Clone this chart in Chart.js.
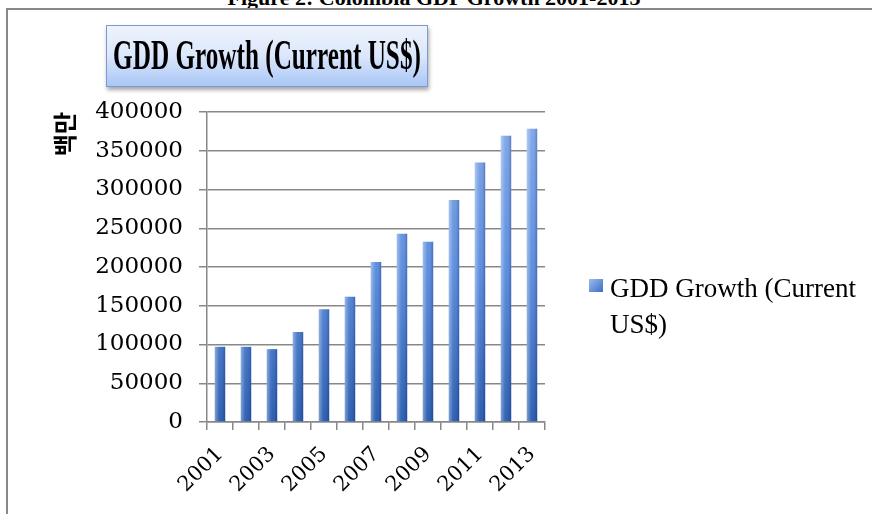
<!DOCTYPE html>
<html>
<head>
<meta charset="utf-8">
<script src="https://cdn.jsdelivr.net/npm/chart.js@4"></script>
<style>
  body { margin: 0; width: 872px; height: 514px; overflow: hidden; background: #fff; position: relative; }
  #caption { position: absolute; left: 0; top: -13px; width: 868px; text-align: center;
             font: bold 22px "Liberation Serif"; line-height: 22px; color: #000; white-space: nowrap; }
  #frame { position: absolute; left: 6px; top: 8px; width: 880px; height: 520px;
           border: 2px solid #888; box-sizing: border-box; }
  #chartWrap { position: absolute; left: 0; top: 0; width: 872px; height: 514px; }
  #titleBox { position: absolute; left: 106px; top: 25px; width: 322px; height: 62px; box-sizing: border-box;
              border: 1px solid #7d9bd0; background: linear-gradient(#eef3fd, #dbe7fb 50%, #a9c6f6);
              box-shadow: 1px 3px 4px rgba(0,0,0,0.35); }
  #titleBox span { position: absolute; left: 50%; top: 0; font: bold 42px "Liberation Serif"; line-height: 58px;
                   transform: translateX(-50%) scaleX(0.6); white-space: nowrap; color: #000; }
  #legend { position: absolute; left: 589px; top: 270px; }
  #legend .swatch { position: absolute; left: 0; top: 9px; width: 14px; height: 13px;
                    background: linear-gradient(135deg, #9dbcf0, #3b6fc2); }
  #legend .ltext { position: absolute; left: 21px; top: 0; font: 27px "Liberation Serif";
                   line-height: 36px; white-space: nowrap; color: #000; }
</style>
</head>
<body>
<div id="caption">Figure 2: Colombia GDP Growth 2001-2013</div>
<div id="frame"></div>
<div id="chartWrap"><canvas id="barChart"></canvas></div>
<div id="titleBox"><span>GDD Growth (Current US$)</span></div>
<div id="legend"><div class="swatch"></div><div class="ltext">GDD Growth (Current<br>US$)</div></div>

<script>
// data
const years = ['2001', '2002', '2003', '2004', '2005', '2006', '2007',
               '2008', '2009', '2010', '2011', '2012', '2013'];
const gdpValues = [97000, 97000, 94000, 116000, 145500, 161500, 206500,
                   243000, 232500, 286500, 335000, 369500, 378500];
const seriesName = 'GDD Growth (Current US$)';
const yAxisTitle = '백만';
const yMin = 0;
const yMax = 400000;
const yStep = 50000;

// vertical shading for the bars
function barFill(context) {
  const chart = context.chart;
  const area = chart.chartArea;
  if (!area) return '#5b8bd8';
  const g = chart.ctx.createLinearGradient(0, area.top, 0, area.bottom);
  g.addColorStop(0, '#86acec');
  g.addColorStop(0.5, '#5f90df');
  g.addColorStop(1, '#2e60b2');
  return g;
}

// gives each bar a rounded cylinder look
const cylinderShade = {
  id: 'cylinderShade',
  afterDatasetsDraw(chart) {
    const ctx = chart.ctx;
    chart.getDatasetMeta(0).data.forEach(function(bar) {
      const half = bar.width / 2;
      const g = ctx.createLinearGradient(bar.x - half, 0, bar.x + half, 0);
      g.addColorStop(0, 'rgba(255,255,255,0.4)');
      g.addColorStop(0.35, 'rgba(255,255,255,0.08)');
      g.addColorStop(0.7, 'rgba(0,0,40,0)');
      g.addColorStop(1, 'rgba(0,0,60,0.25)');
      ctx.save();
      ctx.fillStyle = g;
      ctx.fillRect(bar.x - half, bar.y, bar.width, bar.base - bar.y);
      ctx.restore();
    });
  }
};

const ctx = document.getElementById('barChart').getContext('2d');
const myChart = new Chart(ctx, {
  type: 'bar',
  data: {
    labels: years,
    datasets: [{
      label: seriesName,
      data: gdpValues,
      backgroundColor: barFill,
      borderWidth: 0,
      barPercentage: 0.4,
      categoryPercentage: 1.0
    }]
  },
  options: {
    responsive: true,
    maintainAspectRatio: false,
    animation: false,
    layout: {
      padding: { left: 46, top: 112, right: 327, bottom: 0 }
    },
    scales: {
      x: {
        offset: true,
        grid: {
          display: true,
          drawOnChartArea: false,
          drawTicks: true,
          tickLength: 8,
          color: '#888',
          lineWidth: 1.5
        },
        border: { color: '#888', width: 1.5 },
        ticks: {
          autoSkip: false,
          maxRotation: 45,
          minRotation: 45,
          padding: 12,
          color: '#000',
          font: { family: 'DejaVu Serif', size: 21 },
          callback: function(value, index) {
            return index % 2 === 0 ? years[index] : '';
          }
        },
        afterFit: function(scale) { scale.height = 92; }
      },
      y: {
        min: yMin,
        max: yMax,
        grid: {
          color: '#888',
          lineWidth: 1.5,
          tickLength: 8
        },
        border: { color: '#888', width: 1.5 },
        ticks: {
          stepSize: yStep,
          padding: 16,
          color: '#000',
          font: { family: 'DejaVu Serif', size: 23 },
          callback: function(value) { return String(value); }
        },
        title: {
          display: true,
          text: yAxisTitle,
          align: 'end',
          color: '#000',
          font: { family: 'Noto Sans CJK KR', size: 24, weight: 'bold' }
        },
        afterFit: function(scale) { scale.width = 161; }
      }
    },
    plugins: {
      legend: { display: false },
      tooltip: { enabled: false }
    }
  },
  plugins: [cylinderShade]
});
</script>
</body>
</html>
